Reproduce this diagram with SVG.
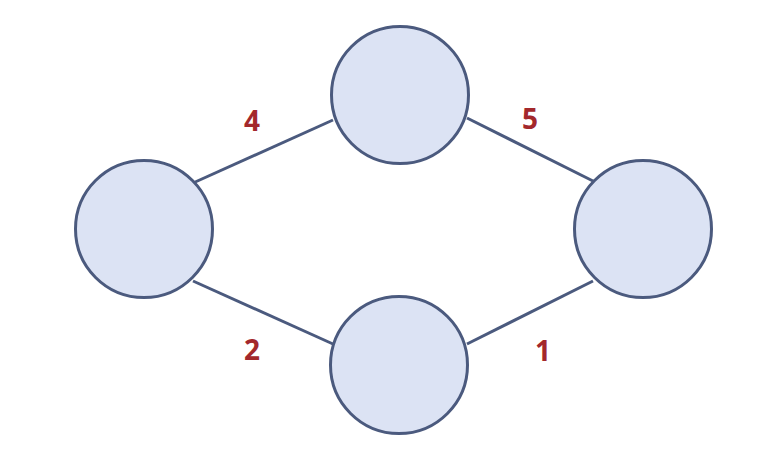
<svg xmlns="http://www.w3.org/2000/svg" width="776" height="468" viewBox="0 0 776 468">
<style>
.node{fill:#dce3f4;stroke:#4b5a7e;stroke-width:3}
.edge{stroke:#4b5a7e;stroke-width:3;fill:none}
.lbl{font-family:"Open Sans","Liberation Sans",sans-serif;font-weight:bold;font-size:28px;fill:#a3282c;text-anchor:middle}
</style>
<rect width="776" height="468" fill="#ffffff"/>
<g id="connectors">
<line class="edge" x1="193" y1="183" x2="333" y2="120"/>
<line class="edge" x1="467" y1="118" x2="595" y2="182"/>
<line class="edge" x1="193" y1="281" x2="333" y2="344"/>
<line class="edge" x1="467" y1="344" x2="593" y2="281"/>
<text class="lbl" x="252" y="131">4</text>
<text class="lbl" x="530" y="129">5</text>
<text class="lbl" x="252" y="360">2</text>
<text class="lbl" x="543" y="361">1</text>
</g>
<g id="node-left"><circle class="node" cx="144" cy="229" r="68.5"/></g>
<g id="node-top"><circle class="node" cx="400" cy="95" r="68.5"/></g>
<g id="node-right"><circle class="node" cx="643" cy="229" r="68.5"/></g>
<g id="node-bottom"><circle class="node" cx="399" cy="365" r="68.5"/></g>
</svg>
